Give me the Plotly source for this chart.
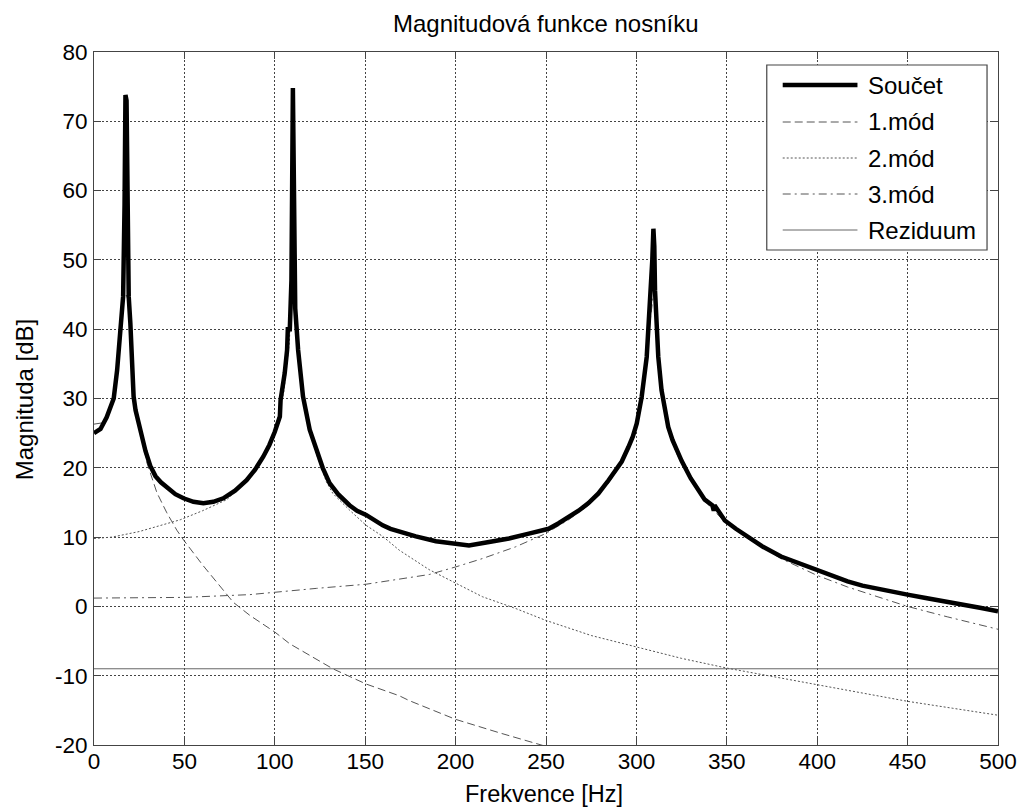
import plotly.graph_objects as go

# ---------------- data ----------------
sum_f = [0, 3.6, 7, 10.9, 12.8, 14.6, 16.1, 16.9, 17.4, 18.0, 18.5, 19.2, 20.1, 21.9, 23, 24.5,
         26.5, 28.5, 31.1, 34, 37, 40.3, 45, 49.5, 55, 60.5, 66, 71.5, 78, 84.4, 89, 93.6, 97,
         100, 102.8, 103.2, 105.5, 106.8, 107.2, 108.3, 109.2, 110.0, 110.5, 111.0, 111.3,
         112.9, 114.7, 115.6, 119.3, 123, 126.5, 130.3, 135, 141.3, 145.5, 150.5, 155,
         159.7, 164, 168.9, 178, 189.1, 200.1, 207.4, 218.5, 229.5, 240.5, 251.5, 257,
         262.5, 268, 273.5, 279, 284.6, 288, 291.9, 295.6, 298, 300.2, 302.9, 305.7, 307.5,
         308.8, 309.4, 309.9, 310.3, 311, 312.1, 313.9, 315.8, 317.6, 320, 325, 330, 334,
         337.8, 342, 342.8, 343.2, 345, 348.9, 355, 361.7, 370, 380, 390, 399.7, 408, 416.8,
         425, 435.2, 442, 449.9, 460, 471.9, 480, 490, 500]
sum_db = [25.0, 25.6, 27.3, 30.0, 34.1, 39.9, 44.7, 58, 73.8, 73.0, 58, 44.7, 40.9, 30.3, 28.3, 26.5,
          24.6, 22.4, 20.3, 18.8, 17.9, 17.2, 16.2, 15.6, 15.1, 14.9, 15.1, 15.6, 16.7, 18.2, 19.7, 21.6, 23.3,
          25.2, 27.4, 29.8, 33.7, 37, 40, 40, 47, 74.8, 62, 53.9, 43,
          37, 32, 30.3, 25.5, 22.5, 20.0, 17.8, 16.2, 14.6, 13.8, 13.2, 12.4,
          11.7, 11.2, 10.8, 10.1, 9.4, 9.0, 8.8, 9.3, 9.8, 10.5, 11.2, 12.0,
          12.9, 13.8, 14.9, 16.3, 18.2, 19.4, 20.9, 23.0, 24.5, 26.4, 30.2, 36, 42.8,
          50, 54.5, 52, 45.6, 40, 36, 31.2, 28.8, 25.9, 24.0, 21.0, 18.5, 16.8,
          15.4, 14.6, 13.8, 14.6, 13.9, 12.4, 11.2, 10.1, 8.6, 7.2, 6.2, 5.3, 4.4, 3.6,
          3.0, 2.4, 2.0, 1.7, 1.2, 0.7, 0.3, -0.2, -0.7]

mode1_f = [0, 5, 10, 14.6, 16.5, 17.5, 18.5, 20.1, 21.9, 25.6, 29.3, 34.8, 40.3, 45.8, 49.5,
           60, 70, 77, 86.2, 100, 108.3, 132.1, 150.5, 168.9, 174.4, 200, 225, 250]
mode1_db = [26.3, 26.5, 29.0, 38.5, 44.5, 45.2, 44.5, 40.5, 30.5, 25.7, 20.7, 16.4, 13.5, 11.0, 9.6,
            6.0, 2.8, 0.6, -1.3, -3.7, -5.4, -9.0, -11.2, -12.9, -13.6, -16.3, -18.3, -20.2]

mode2_f = [0, 10, 25, 47.7, 60, 73.4, 84.4, 93.6, 100, 105, 108, 109.5, 110.5, 111.5, 113,
           115.6, 119.3, 123, 128.5, 132.1, 141.3, 150.5, 159.7, 168.9, 185.4, 200.1, 214.8,
           233.2, 249.7, 275, 300, 325, 350, 375, 400, 425, 450, 475, 500]
mode2_db = [9.8, 10.0, 10.8, 12.5, 13.8, 15.4, 18.0, 21.5, 25.0, 31, 38, 46, 53.6, 45, 37,
            30, 25.3, 22, 18, 16.3, 13.9, 11.7, 10.1, 8.1, 5.3, 3.3, 1.4,
            -0.3, -2.0, -4.2, -5.8, -7.5, -8.9, -10.1, -11.3, -12.5, -13.7, -14.7, -15.7]

mode3_f = [0, 50, 86.2, 104.6, 123, 150.5, 168.9, 185.4, 200.1, 214.8, 233.2, 249.7, 262.5,
           273.5, 284.6, 291.9, 300.2, 303, 305.7, 307.5, 309.4, 310.5, 312.1, 313.9, 317.6,
           322, 330, 337.8, 348.9, 361.7, 380, 399.7, 416.8, 435.2, 449.9, 471.9, 500]
mode3_db = [1.2, 1.3, 1.7, 2.2, 2.6, 3.2, 3.9, 4.6, 5.7, 6.9, 8.6, 10.5, 12.5,
            14.6, 17.8, 20.6, 26, 30, 35.5, 41, 45, 44, 36, 31, 25.7,
            22.2, 18.3, 15.2, 12.2, 9.8, 6.9, 4.5, 2.8, 1.3, 0.0, -1.5, -3.3]

resid_f = [0, 500]
resid_db = [-9.0, -9.0]

legend_labels = ["Součet", "1.mód", "2.mód", "3.mód", "Reziduum"]
x_ticks = [0, 50, 100, 150, 200, 250, 300, 350, 400, 450, 500]
y_ticks = [-20, -10, 0, 10, 20, 30, 40, 50, 60, 70, 80]

# ---------------- figure ----------------
W, H = 1029, 809
L, R, T, B = 94, 1001, 52, 745
FONT = "Liberation Sans, Arial, Helvetica, sans-serif"
MODE_COL = "#555555"

styles = [
    dict(color="black", width=4.5, dash="solid"),
    dict(color=MODE_COL, width=1, dash="8px,4px"),
    dict(color=MODE_COL, width=1, dash="2px,2px"),
    dict(color=MODE_COL, width=1, dash="8px,4px,2px,4px"),
    dict(color="#666666", width=1, dash="solid"),
]

fig = go.Figure()
series = [(mode1_f, mode1_db, 1), (mode2_f, mode2_db, 2), (mode3_f, mode3_db, 3),
          (resid_f, resid_db, 4), (sum_f, sum_db, 0)]
for fx, dy, k in series:
    fig.add_trace(go.Scatter(x=fx, y=dy, mode="lines", name=legend_labels[k],
                             line=styles[k], showlegend=False, hoverinfo="skip"))

axis_common = dict(showline=True, linecolor="#444444", linewidth=1, mirror="allticks",
                   ticks="inside", ticklen=7, tickcolor="#444444", showgrid=True,
                   gridcolor="#444444", gridwidth=1, griddash="2px,2px", zeroline=False,
                   tickfont=dict(family=FONT, size=22.5, color="black"))

fig.update_xaxes(range=[0, 500], tickvals=x_ticks, ticktext=[str(v) for v in x_ticks],
                 ticklabelstandoff=-4, **axis_common)
fig.update_yaxes(range=[-20, 80], tickvals=y_ticks, ticktext=[str(v) for v in y_ticks],
                 ticklabelstandoff=1, **axis_common)

def px(x):
    return (x - L) / (R - L)

def py(y):
    return (B - y) / (B - T)

shapes = []
annotations = []
# legend box
shapes.append(dict(type="rect", xref="paper", yref="paper", x0=px(769), x1=px(990),
                   y0=py(250), y1=py(65), line=dict(color="#444444", width=1.2),
                   fillcolor="white", layer="above"))
rows = [85, 122, 158, 194, 230]
for k, ry in enumerate(rows):
    st = styles[k]
    shapes.append(dict(type="line", xref="paper", yref="paper", x0=px(785), x1=px(860),
                       y0=py(ry), y1=py(ry), layer="above",
                       line=dict(color=st["color"], width=st["width"], dash=st["dash"])))
    annotations.append(dict(xref="paper", yref="paper", x=px(869), y=py(ry), xanchor="left",
                            yanchor="middle", text=legend_labels[k], showarrow=False,
                            font=dict(family=FONT, size=24, color="black")))

# axis titles and plot title
annotations.append(dict(xref="paper", yref="paper", x=px(545), y=py(794), text="Frekvence [Hz]",
                        showarrow=False, xanchor="center", yanchor="middle",
                        font=dict(family=FONT, size=23.5, color="black")))
annotations.append(dict(xref="paper", yref="paper", x=px(24), y=py(400), text="Magnituda [dB]",
                        textangle=-90, showarrow=False, xanchor="center", yanchor="middle",
                        font=dict(family=FONT, size=24, color="black")))
annotations.append(dict(xref="paper", yref="paper", x=px(547), y=py(23),
                        text="Magnitudová funkce nosníku", showarrow=False,
                        xanchor="center", yanchor="middle",
                        font=dict(family=FONT, size=24, color="black")))

fig.update_layout(width=W, height=H, margin=dict(l=L, r=W - R, t=T, b=H - B),
                  paper_bgcolor="white", plot_bgcolor="white", showlegend=False,
                  shapes=shapes, annotations=annotations)

fig.write_html("out.html")
